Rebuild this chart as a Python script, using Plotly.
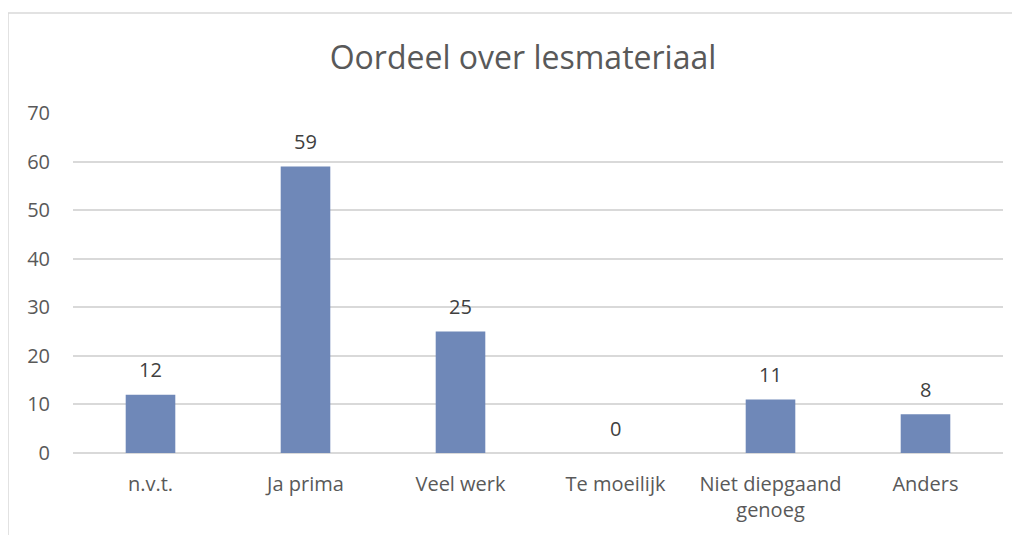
import plotly.graph_objects as go

categories = ["n.v.t.", "Ja prima", "Veel werk", "Te moeilijk", "Niet diepgaand<br>genoeg", "Anders"]
values = [12, 59, 25, 0, 11, 8]
y_ticks = [0, 10, 20, 30, 40, 50, 60, 70]

BAR = "#6F88B8"
TXT = "#595959"
GRID = "#D9D9D9"
FONT = "Open Sans"

# page has an 8px body margin; figure is sized to fit the window
W, H = 1012, 527
L, T, R, B = 65, 105, 17, 82
PW, PH = W - L - R, H - T - B

fig = go.Figure()
fig.add_trace(go.Bar(x=categories, y=values, marker=dict(color=BAR, line=dict(width=0)),
                     hoverinfo="skip"))

for c, v in zip(categories, values):
    fig.add_annotation(x=c, y=v, text=str(v), showarrow=False, yshift=25,
                       font=dict(family=FONT, size=20, color="#404040"))

fig.add_shape(type="rect", xref="paper", yref="paper",
              x0=(0 - L) / PW, x1=1.2, y0=-0.6, y1=(PH + T - 5) / PH,
              line=dict(color=GRID, width=1.5), fillcolor="rgba(0,0,0,0)", layer="below")

fig.update_layout(
    width=W, height=H,
    margin=dict(l=L, r=R, t=T, b=B),
    paper_bgcolor="white", plot_bgcolor="white",
    bargap=0.68,
    showlegend=False,
    font=dict(family=FONT, color=TXT, size=20),
    title=dict(text="Oordeel over lesmateriaal", x=515 / W, xanchor="center",
               y=1 - 50 / H, yanchor="middle", xref="container", yref="container",
               font=dict(family=FONT, size=32, color=TXT)),
    xaxis=dict(showgrid=False, showline=False, ticks="", ticklabelstandoff=17,
               tickfont=dict(family=FONT, size=20, color=TXT)),
    yaxis=dict(range=[0, 70], tickvals=y_ticks, showgrid=True, gridcolor=GRID, gridwidth=1.5,
               zeroline=True, zerolinecolor=GRID, zerolinewidth=1.5, showline=False,
               ticks="", ticklabelstandoff=22, tickfont=dict(family=FONT, size=20, color=TXT)),
)

fig.write_html("out.html")
